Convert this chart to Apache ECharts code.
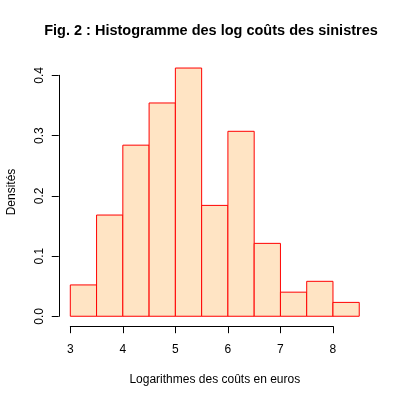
<!DOCTYPE html>
<html>
<head>
<meta charset="utf-8">
<script src="https://cdn.jsdelivr.net/npm/echarts@6/dist/echarts.min.js"></script>
<style>
  html, body { margin: 0; padding: 0; background: #fff; }
  #chart { width: 400px; height: 400px; }
</style>
</head>
<body>
<div id="chart"></div>
<script>
// bornes des classes (largeur 0.5) et densites
var breaks = [3, 3.5, 4, 4.5, 5, 5.5, 6, 6.5, 7, 7.5, 8, 8.5];
var densities = [0.052, 0.168, 0.284, 0.354, 0.412, 0.184, 0.307, 0.121, 0.040, 0.058, 0.023];
var xTicks = [3, 4, 5, 6, 7, 8];
var yTicks = [0, 0.1, 0.2, 0.3, 0.4];

var font = 'Liberation Sans, Arial, sans-serif';
var bins = densities.map(function (d, i) { return [breaks[i], breaks[i + 1], d]; });

var chart = echarts.init(document.getElementById('chart'));

// zone de trace a la R : etendue de 4 % de chaque cote
var xMin = 2.78, xMax = 8.72, yMin = -0.0165, yMax = 0.4285;

var option = {
  animation: false,
  backgroundColor: '#fff',
  grid: [
    { left: 58.75, right: 29.2, top: 58.1, bottom: 73.8 },
    // axe x : de 3 a 8 seulement
    { left: 70.3, width: 262.5, top: 58.1, bottom: 73.8 },
    // axe y : de 0 a 0.4 seulement
    { left: 58.75, width: 300, top: 75.3, bottom: 83.7 }
  ],
  xAxis: [
    { gridIndex: 0, type: 'value', min: xMin, max: xMax, show: false },
    {
      gridIndex: 1, type: 'value', min: xTicks[0], max: xTicks[xTicks.length - 1], interval: 1,
      axisLine: { lineStyle: { color: '#000', width: 1 } },
      axisTick: { length: 7, lineStyle: { color: '#000' } },
      axisLabel: { color: '#000', fontFamily: font, fontSize: 12, margin: 17 },
      splitLine: { show: false }
    },
    { gridIndex: 2, type: 'value', min: 0, max: 1, show: false }
  ],
  yAxis: [
    { gridIndex: 0, type: 'value', min: yMin, max: yMax, show: false },
    { gridIndex: 1, type: 'value', min: 0, max: 1, show: false },
    {
      gridIndex: 2, type: 'value', min: yTicks[0], max: yTicks[yTicks.length - 1], interval: 0.1,
      axisLine: { show: true, lineStyle: { color: '#000', width: 1 } },
      axisTick: { show: true, length: 7, lineStyle: { color: '#000' } },
      axisLabel: {
        color: '#000', fontFamily: font, fontSize: 12, rotate: 90, margin: 13,
        formatter: function (v) { return v.toFixed(1); }
      },
      splitLine: { show: false }
    }
  ],
  series: [{
    type: 'custom',
    xAxisIndex: 0,
    yAxisIndex: 0,
    data: bins,
    renderItem: function (params, api) {
      var p0 = api.coord([api.value(0), api.value(2)]);
      var p1 = api.coord([api.value(1), 0]);
      return {
        type: 'rect',
        shape: { x: p0[0], y: p0[1], width: p1[0] - p0[0], height: p1[1] - p0[1] },
        style: { fill: '#FFE4C4', stroke: '#FF0000', lineWidth: 1 }
      };
    }
  }],
  graphic: [
    {
      type: 'text', x: 211, y: 31,
      style: { text: 'Fig. 2 : Histogramme des log coûts des sinistres', font: 'bold 14.5px ' + font, fill: '#000', align: 'center', verticalAlign: 'middle' }
    },
    {
      type: 'text', x: 214.8, y: 380,
      style: { text: 'Logarithmes des coûts en euros', font: '12px ' + font, fill: '#000', align: 'center', verticalAlign: 'middle' }
    },
    {
      type: 'text', x: 12, y: 192, rotation: Math.PI / 2,
      style: { text: 'Densités', font: '12px ' + font, fill: '#000', align: 'center', verticalAlign: 'middle' }
    }
  ]
};

chart.setOption(option);
</script>
</body>
</html>
